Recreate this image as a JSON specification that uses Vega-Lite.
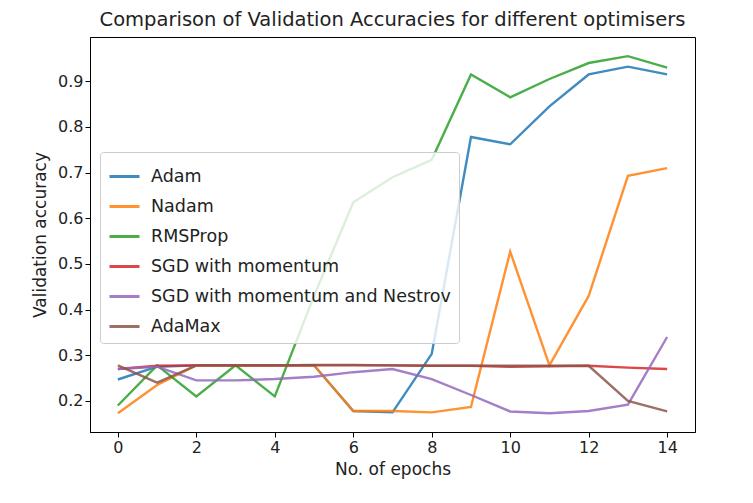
{
  "$schema": "https://vega.github.io/schema/vega-lite/v6.json",
  "autosize": {"type": "none"},
  "padding": {"left": 90, "top": 37, "right": 58, "bottom": 71},
  "width": 605,
  "height": 395,
  "background": "white",
  "title": {"text": "Comparison of Validation Accuracies for different optimisers", "fontSize": 19.5, "font": "DejaVu Sans", "fontWeight": "normal", "offset": 7, "color": "#222"},
  "data": {"values": [
    {"e":0,"o":"Adam","v":0.247},{"e":1,"o":"Adam","v":0.275},{"e":2,"o":"Adam","v":0.278},{"e":3,"o":"Adam","v":0.278},{"e":4,"o":"Adam","v":0.278},{"e":5,"o":"Adam","v":0.278},{"e":6,"o":"Adam","v":0.178},{"e":7,"o":"Adam","v":0.175},{"e":8,"o":"Adam","v":0.303},{"e":9,"o":"Adam","v":0.778},{"e":10,"o":"Adam","v":0.762},{"e":11,"o":"Adam","v":0.845},{"e":12,"o":"Adam","v":0.915},{"e":13,"o":"Adam","v":0.932},{"e":14,"o":"Adam","v":0.915},
    {"e":0,"o":"Nadam","v":0.173},{"e":1,"o":"Nadam","v":0.235},{"e":2,"o":"Nadam","v":0.278},{"e":3,"o":"Nadam","v":0.278},{"e":4,"o":"Nadam","v":0.278},{"e":5,"o":"Nadam","v":0.278},{"e":6,"o":"Nadam","v":0.178},{"e":7,"o":"Nadam","v":0.178},{"e":8,"o":"Nadam","v":0.175},{"e":9,"o":"Nadam","v":0.187},{"e":10,"o":"Nadam","v":0.527},{"e":11,"o":"Nadam","v":0.278},{"e":12,"o":"Nadam","v":0.43},{"e":13,"o":"Nadam","v":0.693},{"e":14,"o":"Nadam","v":0.71},
    {"e":0,"o":"RMSProp","v":0.19},{"e":1,"o":"RMSProp","v":0.278},{"e":2,"o":"RMSProp","v":0.21},{"e":3,"o":"RMSProp","v":0.278},{"e":4,"o":"RMSProp","v":0.21},{"e":5,"o":"RMSProp","v":0.43},{"e":6,"o":"RMSProp","v":0.635},{"e":7,"o":"RMSProp","v":0.69},{"e":8,"o":"RMSProp","v":0.728},{"e":9,"o":"RMSProp","v":0.915},{"e":10,"o":"RMSProp","v":0.865},{"e":11,"o":"RMSProp","v":0.905},{"e":12,"o":"RMSProp","v":0.94},{"e":13,"o":"RMSProp","v":0.955},{"e":14,"o":"RMSProp","v":0.93},
    {"e":0,"o":"SGD with momentum","v":0.27},{"e":1,"o":"SGD with momentum","v":0.277},{"e":2,"o":"SGD with momentum","v":0.278},{"e":3,"o":"SGD with momentum","v":0.278},{"e":4,"o":"SGD with momentum","v":0.278},{"e":5,"o":"SGD with momentum","v":0.278},{"e":6,"o":"SGD with momentum","v":0.278},{"e":7,"o":"SGD with momentum","v":0.278},{"e":8,"o":"SGD with momentum","v":0.277},{"e":9,"o":"SGD with momentum","v":0.277},{"e":10,"o":"SGD with momentum","v":0.275},{"e":11,"o":"SGD with momentum","v":0.276},{"e":12,"o":"SGD with momentum","v":0.277},{"e":13,"o":"SGD with momentum","v":0.273},{"e":14,"o":"SGD with momentum","v":0.27},
    {"e":0,"o":"SGD with momentum and Nestrov","v":0.27},{"e":1,"o":"SGD with momentum and Nestrov","v":0.275},{"e":2,"o":"SGD with momentum and Nestrov","v":0.245},{"e":3,"o":"SGD with momentum and Nestrov","v":0.245},{"e":4,"o":"SGD with momentum and Nestrov","v":0.248},{"e":5,"o":"SGD with momentum and Nestrov","v":0.253},{"e":6,"o":"SGD with momentum and Nestrov","v":0.263},{"e":7,"o":"SGD with momentum and Nestrov","v":0.27},{"e":8,"o":"SGD with momentum and Nestrov","v":0.248},{"e":9,"o":"SGD with momentum and Nestrov","v":0.213},{"e":10,"o":"SGD with momentum and Nestrov","v":0.177},{"e":11,"o":"SGD with momentum and Nestrov","v":0.173},{"e":12,"o":"SGD with momentum and Nestrov","v":0.178},{"e":13,"o":"SGD with momentum and Nestrov","v":0.192},{"e":14,"o":"SGD with momentum and Nestrov","v":0.34},
    {"e":0,"o":"AdaMax","v":0.278},{"e":1,"o":"AdaMax","v":0.24},{"e":2,"o":"AdaMax","v":0.278},{"e":3,"o":"AdaMax","v":0.278},{"e":4,"o":"AdaMax","v":0.278},{"e":5,"o":"AdaMax","v":0.279},{"e":6,"o":"AdaMax","v":0.279},{"e":7,"o":"AdaMax","v":0.278},{"e":8,"o":"AdaMax","v":0.277},{"e":9,"o":"AdaMax","v":0.277},{"e":10,"o":"AdaMax","v":0.277},{"e":11,"o":"AdaMax","v":0.277},{"e":12,"o":"AdaMax","v":0.277},{"e":13,"o":"AdaMax","v":0.2},{"e":14,"o":"AdaMax","v":0.177}
  ]},
  "mark": {"type": "line", "strokeWidth": 2.4, "opacity": 0.85},
  "encoding": {
    "x": {"field": "e", "type": "quantitative", "title": "No. of epochs",
      "scale": {"domain": [-0.71, 14.71], "nice": false, "zero": false},
      "axis": {"values": [0,2,4,6,8,10,12,14], "grid": false, "labelFontSize": 16, "titleFontSize": 17, "titleFontWeight": "normal", "labelFont": "DejaVu Sans", "titleFont": "DejaVu Sans", "domainColor": "#000", "tickColor": "#000", "labelColor": "#222", "titleColor": "#222", "tickSize": 5, "titlePadding": 6}},
    "y": {"field": "v", "type": "quantitative", "title": "Validation accuracy",
      "scale": {"domain": [0.132, 0.997], "nice": false, "zero": false},
      "axis": {"values": [0.2,0.3,0.4,0.5,0.6,0.7,0.8,0.9], "format": ".1f", "grid": false, "labelFontSize": 16, "titleFontSize": 17, "titleFontWeight": "normal", "labelFont": "DejaVu Sans", "titleFont": "DejaVu Sans", "domainColor": "#000", "tickColor": "#000", "labelColor": "#222", "titleColor": "#222", "tickSize": 5, "titlePadding": 8}},
    "color": {"field": "o", "type": "nominal", "title": null,
      "scale": {"domain": ["Adam","Nadam","RMSProp","SGD with momentum","SGD with momentum and Nestrov","AdaMax"],
        "range": ["#1f77b4","#ff7f0e","#2ca02c","#d62728","#9467bd","#8c564b"]},
      "legend": {"orient": "none", "legendX": 10, "legendY": 115, "symbolType": "stroke", "symbolStrokeWidth": 3, "symbolSize": 900, "labelFontSize": 17.5, "labelFont": "DejaVu Sans", "labelColor": "#222", "labelOffset": 10, "rowPadding": 5, "padding": 8, "fillColor": "rgba(255,255,255,0.8)", "strokeColor": "#ccc", "cornerRadius": 3, "labelLimit": 400}}
  },
  "config": {"view": {"stroke": "#000", "strokeWidth": 1}}
}
